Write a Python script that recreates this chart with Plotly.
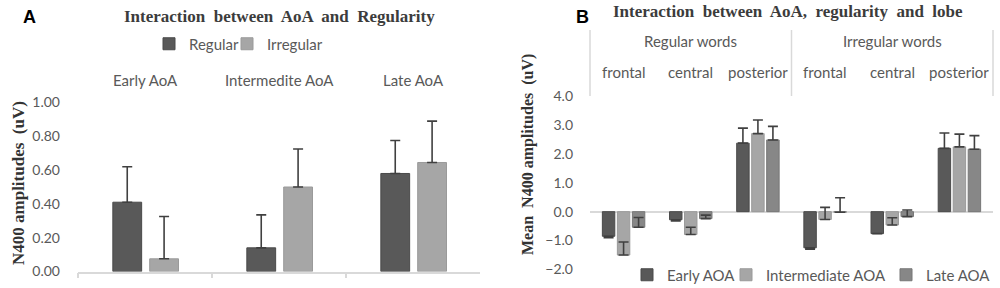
import plotly.graph_objects as go

# ---------------- data ----------------
# Panel A
categories_a = ["Early AoA", "Intermedite AoA", "Late AoA"]
regular = [0.41, 0.14, 0.58]
regular_err = [0.21, 0.195, 0.195]
irregular = [0.075, 0.50, 0.645]
irregular_err = [0.25, 0.225, 0.245]

# Panel B
word_types = ["Regular words"] * 3 + ["Irregular words"] * 3
lobes = ["frontal", "central", "posterior"] * 2
early = [-0.85, -0.28, 2.37, -1.25, -0.76, 2.19]
early_err_up = [0.0, 0.0, 0.52, 0.0, 0.0, 0.53]
early_err_down = [0.05, 0.04, 0.0, 0.05, 0.0, 0.0]
intermediate = [-1.50, -0.79, 2.70, -0.27, -0.46, 2.24]
intermediate_err_up = [0.45, 0.25, 0.47, 0.42, 0.25, 0.44]
late = [-0.54, -0.24, 2.48, -0.02, -0.17, 2.16]
late_err_up = [0.34, 0.12, 0.47, 0.50, 0.23, 0.47]

# ---------------- helpers ----------------
W, H = 1000, 288
def px(x):
    return x / W
def py(y):
    return 1 - y / H

DARK = "#595959"
LIGHT = "#a6a6a6"
MID = "#878787"
ERR = "#404040"
TXT = "#595959"
GRID = "#d9d9d9"
BODY_FONT = "Lato"
SERIF = "Liberation Serif"

fig = go.Figure()

def err(up, down=None):
    return dict(type="data", array=up, symmetric=False,
                arrayminus=down if down is not None else [0] * len(up),
                color=ERR, thickness=1.6, width=5, visible=True)

# Panel A traces
fig.add_trace(go.Bar(
    x=categories_a, y=regular, name="Regular",
    marker=dict(color=DARK, line=dict(color="#4a4a4a", width=1)),
    error_y=err(regular_err), width=0.215, offset=-0.24,
    xaxis="x", yaxis="y", legend="legend"))
fig.add_trace(go.Bar(
    x=categories_a, y=irregular, name="Irregular",
    marker=dict(color=LIGHT, line=dict(color="#9a9a9a", width=1)),
    error_y=err(irregular_err), width=0.215, offset=0.035,
    xaxis="x", yaxis="y", legend="legend2"))

# Panel B traces
xb = [word_types, lobes]
fig.add_trace(go.Bar(
    x=xb, y=early, name="Early AOA",
    marker=dict(color=DARK, line=dict(color="#4a4a4a", width=1)),
    error_y=err(early_err_up, early_err_down),
    xaxis="x2", yaxis="y2", legend="legend3"))
fig.add_trace(go.Bar(
    x=xb, y=intermediate, name="Intermediate AOA",
    marker=dict(color=LIGHT, line=dict(color="#9a9a9a", width=1)),
    error_y=err(intermediate_err_up),
    xaxis="x2", yaxis="y2", legend="legend4"))
fig.add_trace(go.Bar(
    x=xb, y=late, name="Late AOA",
    marker=dict(color=MID, line=dict(color="#777777", width=1)),
    error_y=err(late_err_up),
    xaxis="x2", yaxis="y2", legend="legend5"))

def leg(x, y):
    return dict(orientation="h", x=px(x), y=py(y), xanchor="left", yanchor="middle",
                bgcolor="rgba(0,0,0,0)", font=dict(size=15, color=TXT), itemwidth=30)

fig.update_layout(
    width=W, height=H,
    margin=dict(l=0, r=0, t=0, b=0, autoexpand=False),
    paper_bgcolor="white", plot_bgcolor="white",
    barmode="group", bargap=0.33, bargroupgap=0.17,
    font=dict(family=BODY_FONT, size=15, color=TXT),
    xaxis=dict(domain=[px(78), px(480)], anchor="y", type="category",
               showticklabels=False, showline=True, linecolor=GRID, linewidth=1.5,
               ticks="outside", tickson="boundaries", ticklen=5, tickcolor=GRID,
               tickwidth=1.5, showgrid=False, zeroline=False, automargin=False),
    yaxis=dict(domain=[py(271.5), py(102.5)], anchor="x", range=[0, 1.0],
               tickvals=[0, 0.2, 0.4, 0.6, 0.8, 1.0], tickformat=".2f",
               showgrid=False, zeroline=False, showline=False, ticks="",
               ticklabelstandoff=17, tickfont=dict(size=14, color=TXT), automargin=False),
    xaxis2=dict(domain=[px(590), px(993)], anchor="y2", type="multicategory",
                showticklabels=False, showline=False, showgrid=False, zeroline=False,
                ticks="", showdividers=False, automargin=False),
    yaxis2=dict(domain=[py(269.5), py(96)], anchor="x2", range=[-2, 4],
                tickvals=[-2, -1, 0, 1, 2, 3, 4], tickformat=".1f",
                showgrid=False, zeroline=True, zerolinecolor=GRID, zerolinewidth=1.5,
                showline=False, ticks="", ticklabelstandoff=16,
                tickfont=dict(size=14, color=TXT), automargin=False),
    legend=leg(149, 44),
    legend2=leg(227, 44),
    legend3=leg(627, 275),
    legend4=leg(726, 275),
    legend5=leg(886, 275),
    showlegend=True,
)

def ann(text, x, y, size, family=BODY_FONT, color=TXT, xref="paper", angle=0):
    return dict(text=text, x=x, y=y, xref=xref, yref="paper", showarrow=False,
                xanchor="center", yanchor="middle", textangle=angle,
                font=dict(family=family, size=size, color=color))

annotations = [
    ann("<b>A</b>", px(29), py(17), 18, "Liberation Sans", "black"),
    ann("<b>B</b>", px(582), py(17), 18, "Liberation Sans", "black"),
    ann("<b>Interaction  between  AoA  and  Regularity</b>", px(279), py(16), 17, SERIF, "#3c3c3c"),
    ann("<b>Interaction  between  AoA,  regularity  and  lobe</b>", px(788), py(12), 17, SERIF, "#3c3c3c"),
    ann("<b>N400 amplitudes  (uV)</b>", px(18), py(183), 17, SERIF, "#333333", angle=-90),
    ann("<b>Mean  N400 amplitudes  (uV)</b>", px(528), py(155), 16, SERIF, "#333333", angle=-90),
]
# Panel A category labels (top)
for c in categories_a:
    annotations.append(ann(c, c, py(80), 15, xref="x"))
# Panel B two-level category labels (top), positioned on the x2 category axis
for i, lobe in enumerate(lobes):
    annotations.append(ann(lobe, i, py(72), 15, xref="x2"))
groups = []
for i, g in enumerate(word_types):
    if not groups or groups[-1][0] != g:
        groups.append([g, i, i])
    else:
        groups[-1][2] = i
for g, i0, i1 in groups:
    annotations.append(ann(g, (i0 + i1) / 2, py(41), 15, xref="x2"))
fig.update_layout(annotations=annotations)

# group dividers in the header of panel B
shapes = []
for f in [0, 0.5, 1]:
    shapes.append(dict(type="line", xref="x2 domain", yref="paper", x0=f, x1=f,
                       y0=py(96), y1=py(30), line=dict(color=GRID, width=1.5)))
fig.update_layout(shapes=shapes)

fig.write_html("out.html", config={"displayModeBar": False},
               post_script="document.body.style.margin='0';")
